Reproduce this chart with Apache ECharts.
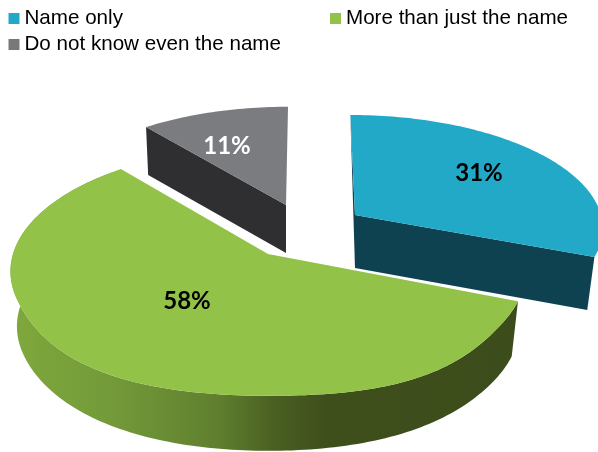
<!DOCTYPE html>
<html>
<head>
<meta charset="utf-8">
<style>html,body{margin:0;padding:0;background:#fff}#chart{width:598px;height:452px}</style>
<script src="https://cdn.jsdelivr.net/npm/echarts@6/dist/echarts.min.js"></script>
</head>
<body>
<div id="chart"></div>
<script>
// Awareness shares, clockwise from twelve o'clock.
const categories = ['Name only', 'More than just the name', 'Do not know even the name'];
const shares = [31, 58, 11];

const topColors = ['#23a9c8', '#93c249', '#7b7c80'];
const legendColors = ['#23a9c8', '#93c249', '#77787b'];
const labelColors = ['#000000', '#000000', '#ffffff'];

// Placement of each exploded slice on the tilted disc.
// cx/cy: apex, r/ry: radii, k: perspective strength, lean: sideways drift toward the rear,
// drop: wall height, shrink: scale of the lower rim, bulge: fuller front rim, z: paint order.
const sliceLayout = [
  { cx: 355, cy: 215, r: 246, ry: 110, k: 0.1, lean: -5.1, drop: 53, shrink: 0.97, bulge: 0, z: 2, label: [479, 173] },
  { cx: 268, cy: 254, r: 255, ry: 122, k: 0.14, lean: 0, drop: 55, shrink: 0.975, bulge: 1, z: 3, label: [187, 301] },
  { cx: 286, cy: 205, r: 246, ry: 112, k: 0.14, lean: 2.3, drop: 48, shrink: 0.985, bulge: 0, z: 1, label: [227, 146] }
];

const total = shares.reduce((a, b) => a + b, 0);
const startShare = shares.map((_, i) => shares.slice(0, i).reduce((a, b) => a + b, 0));

// Slight outward swell of the rim along the front.
function swell(theta) {
  const deg = theta * 180 / Math.PI;
  if (deg > 120 && deg < 180) return 0.03 * Math.pow(Math.sin(Math.PI * (deg - 120) / 60), 2);
  if (deg >= 180 && deg < 250) return 0.03 * Math.pow(Math.sin(Math.PI * (deg - 180) / 70), 2);
  return 0;
}

// Project a rim angle (radians, clockwise from the top) onto the tilted plane.
function rimPoint(lay, theta, bulge) {
  const depth = Math.cos(theta);
  const s = (1 + bulge * swell(theta)) / (1 + lay.k * depth);
  return [
    lay.cx + s * (lay.r * Math.sin(theta) + lay.lean * depth),
    lay.cy - s * lay.ry * depth
  ];
}

// Same point on the lower rim of the slice.
function lowerPoint(lay, p) {
  return [lay.cx + (p[0] - lay.cx) * lay.shrink, p[1] + lay.drop];
}

function renderSlice(index) {
  return function (params, api) {
    const lay = sliceLayout[index];
    const value = api.value(0);
    const a0 = startShare[index] / total * Math.PI * 2;
    const a1 = a0 + value / total * Math.PI * 2;
    const steps = Math.max(12, Math.round(value * 3));
    const rim = [];
    const lowRim = [];
    for (let i = 0; i <= steps; i++) {
      const t = a0 + (a1 - a0) * i / steps;
      rim.push(rimPoint(lay, t, lay.bulge));
      lowRim.push(lowerPoint(lay, rimPoint(lay, t, lay.bulge * 0.4)));
    }
    const apex = [lay.cx, lay.cy];
    const apexLow = lowerPoint(lay, apex);
    const first = rim[0];
    const last = rim[rim.length - 1];
    const children = [];

    if (index === 0) {
      // Cut face running to the lower right, plus the sliver on the rear cut.
      children.push({ type: 'polygon', shape: { points: [first, apexLow, apex] }, style: { fill: '#0e4250' } });
      children.push({ type: 'polygon', shape: { points: [apex, last, lowerPoint(lay, last), apexLow] }, style: { fill: '#0e4250' } });
    } else if (index === 1) {
      // Curved outer wall, lit from the left.
      children.push({
        type: 'polygon',
        shape: { points: rim.concat(lowRim.slice().reverse()) },
        style: {
          fill: new echarts.graphic.LinearGradient(0, 0, 1, 0, [
            { offset: 0, color: '#7fa83d' },
            { offset: 0.2, color: '#739a39' },
            { offset: 0.41, color: '#5f7f2e' },
            { offset: 0.52, color: '#4a5f22' },
            { offset: 0.62, color: '#3f4f1c' },
            { offset: 1, color: '#3c4c1a' }
          ])
        }
      });
    } else {
      // Cut face running from the apex up to the left rim.
      children.push({ type: 'polygon', shape: { points: [first, apex, apexLow, lowerPoint(lay, first)] }, style: { fill: '#2f2f32' } });
    }

    children.push({
      type: 'polygon',
      shape: { points: [apex].concat(rim) },
      style: { fill: topColors[index] }
    });
    children.push({
      type: 'text',
      style: {
        x: lay.label[0],
        y: lay.label[1],
        text: value + '%',
        fill: labelColors[index],
        font: 'bold 24px Lato, "Open Sans", sans-serif',
        textAlign: 'center',
        textVerticalAlign: 'middle'
      }
    });
    return { type: 'group', children: children };
  };
}

const legendSpots = [
  { left: 8.5, top: 8 },
  { left: 330, top: 8 },
  { left: 8.5, top: 34 }
];

const chart = echarts.init(document.getElementById('chart'), null, { renderer: 'canvas' });
chart.setOption({
  animation: false,
  backgroundColor: '#ffffff',
  legend: categories.map((name, i) => ({
    data: [{ name: name, itemStyle: { color: legendColors[i] } }],
    left: legendSpots[i].left,
    top: legendSpots[i].top,
    padding: 0,
    icon: 'rect',
    itemWidth: 11,
    itemHeight: 11,
    selectedMode: false,
    textStyle: { color: '#000000', fontFamily: '"Liberation Sans", Arial, sans-serif', fontSize: 20.6 }
  })),
  series: categories.map((name, i) => ({
    type: 'custom',
    name: name,
    coordinateSystem: 'none',
    silent: true,
    z: sliceLayout[i].z,
    itemStyle: { color: legendColors[i] },
    renderItem: renderSlice(i),
    data: [[shares[i]]]
  }))
});
</script>
</body>
</html>
